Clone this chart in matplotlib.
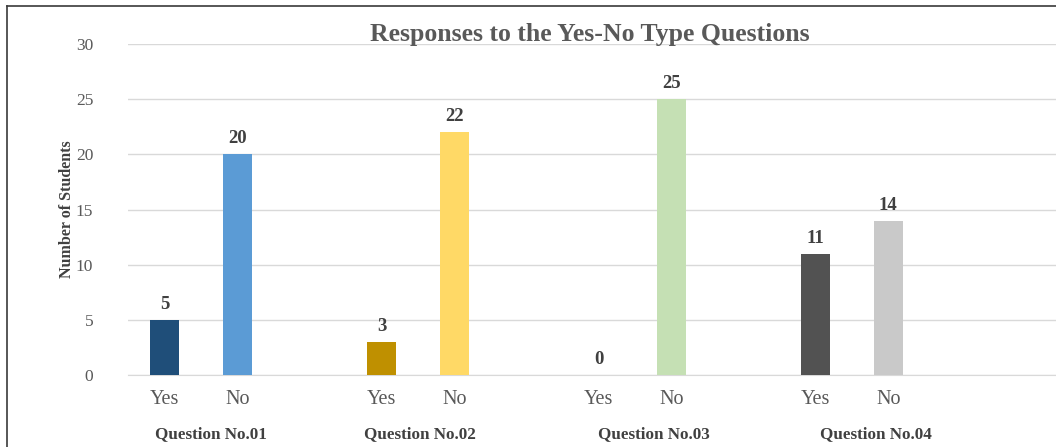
"""Bar chart of responses to the yes-no type questions."""

import matplotlib.pyplot as plt
from matplotlib.lines import Line2D
from matplotlib.transforms import blended_transform_factory

plt.rcParams["font.family"] = ["Liberation Serif", "DejaVu Serif"]

QUESTIONS = ["Question No.01", "Question No.02", "Question No.03", "Question No.04"]
ANSWERS = ["Yes", "No"]
YES_COUNTS = [5, 3, 0, 11]
NO_COUNTS = [20, 22, 25, 14]
YES_COLORS = ["#1F4E79", "#BF9000", "#A9D18E", "#525252"]
NO_COLORS = ["#5B9BD5", "#FFD966", "#C5E0B4", "#C9C9C9"]

# horizontal nudge of each question caption, in category units
CAPTION_SHIFT = [0.14, 0.03, 0.26, 0.33]

TEXT_GREY = "#595959"
DARK = "#404040"


def main() -> None:
    fig = plt.figure(figsize=(10.56, 4.47), dpi=100)
    ax = fig.add_axes([128 / 1056, 1 - 375 / 447, 1 - 128 / 1056, (375 - 44) / 447])

    positions = []
    labels = []
    for g, (yes, no) in enumerate(zip(YES_COUNTS, NO_COUNTS)):
        x_yes, x_no = 3 * g, 3 * g + 1
        for x, val, col in ((x_yes, yes, YES_COLORS[g]), (x_no, no, NO_COLORS[g])):
            ax.bar(x, val, width=0.4, color=col, zorder=3)
            ax.annotate(str(val), (x, val), xytext=(0, 5), textcoords="offset points",
                        ha="center", va="bottom", fontsize=13.5, fontweight="bold", color=DARK)
        positions += [x_yes, x_no]
        labels += ANSWERS

    ax.set_xlim(-0.51, 12.32)
    ax.set_ylim(0, 30)
    ax.set_yticks(range(0, 31, 5))
    ax.set_xticks(positions)
    ax.set_xticklabels(labels)
    ax.tick_params(axis="both", length=0, labelsize=12.5, colors=TEXT_GREY)
    ax.tick_params(axis="x", labelsize=14.5, pad=11)
    ax.tick_params(axis="y", pad=25)
    ax.grid(axis="y", color="#D9D9D9", linewidth=1, zorder=0)
    for side in ("top", "right", "left"):
        ax.spines[side].set_visible(False)
    ax.spines["bottom"].set_color("#D9D9D9")

    ax.set_ylabel("Number of Students", fontsize=11.5, fontweight="bold", color=DARK)
    ax.yaxis.set_label_coords(-0.057, 0.5)

    trans = blended_transform_factory(ax.transData, fig.transFigure)
    for g, q in enumerate(QUESTIONS):
        ax.text(3 * g + 0.5 + CAPTION_SHIFT[g], 1 - 434 / 447, q, transform=trans,
                ha="center", va="center", fontsize=12.3, fontweight="bold", color=DARK)

    fig.text(590 / 1056, 1 - 35 / 447, "Responses to the Yes-No Type Questions",
             ha="center", va="center", fontsize=18.5, fontweight="bold", color=TEXT_GREY)

    # outer chart frame (left and top edges visible in the crop)
    fig.add_artist(Line2D([7 / 1056, 7 / 1056], [0, 1 - 6 / 447], transform=fig.transFigure,
                          color="#3A3A3A", linewidth=1.2))
    fig.add_artist(Line2D([7 / 1056, 1], [1 - 6 / 447, 1 - 6 / 447], transform=fig.transFigure,
                          color="#3A3A3A", linewidth=1.2))

    fig.savefig("out.png", dpi=100)
    plt.close(fig)


if __name__ == "__main__":
    main()
